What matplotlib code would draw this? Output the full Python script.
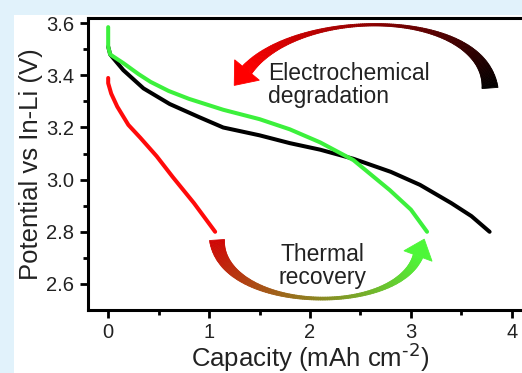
import numpy as np
import matplotlib
import matplotlib.pyplot as plt
from matplotlib.patches import Rectangle, Polygon
from matplotlib.collections import PolyCollection

matplotlib.use("Agg")

# discharge curves
black_cap = [0, 0.02, 0.15, 0.35, 0.61, 0.9, 1.14, 1.5, 1.8, 2.1, 2.43, 2.8, 3.09, 3.4, 3.6, 3.78]
black_v = [3.51, 3.48, 3.42, 3.35, 3.29, 3.24, 3.20, 3.17, 3.14, 3.115, 3.08, 3.03, 2.98, 2.91, 2.86, 2.80]

green_cap = [0, 0, 0.02, 0.15, 0.3, 0.42, 0.6, 0.8, 1.14, 1.5, 1.8, 2.1, 2.43, 2.79, 3.0, 3.16]
green_v = [3.585, 3.51, 3.48, 3.447, 3.405, 3.375, 3.34, 3.31, 3.268, 3.232, 3.193, 3.143, 3.075, 2.96, 2.885, 2.80]

red_cap = [0, 0, 0.03, 0.09, 0.2, 0.32, 0.48, 0.64, 0.85, 1.06]
red_v = [3.39, 3.37, 3.33, 3.28, 3.21, 3.16, 3.09, 3.01, 2.91, 2.80]

x_ticks = [0, 1, 2, 3, 4]
y_ticks = [2.6, 2.8, 3.0, 3.2, 3.4, 3.6]

plt.rcParams["font.family"] = ["Liberation Sans", "DejaVu Sans"]
plt.rcParams["mathtext.default"] = "regular"

W, H = 522, 373
fig = plt.figure(figsize=(W / 100, H / 100), dpi=100, facecolor="#e1f2fb")
fig.patches.append(Rectangle((14 / W, 0), 1, (H - 15) / H, transform=fig.transFigure,
                             facecolor="white", edgecolor="none", zorder=-1))

ax = fig.add_axes([88 / W, 63 / H, 444 / W, 292 / H])
ax.plot(black_cap, black_v, color="black", lw=2.9, solid_capstyle="round")
ax.plot(green_cap, green_v, color="#3cf03c", lw=2.9, solid_capstyle="round")
ax.plot(red_cap, red_v, color="#ff0a0a", lw=2.9, solid_capstyle="round")

ax.set_xlim(-0.2, 4.2)
ax.set_ylim(2.5, 3.62)
ax.set_xticks(x_ticks)
ax.set_yticks(y_ticks)
ax.set_yticklabels([f"{v:.1f}" for v in y_ticks])
ax.set_xticks(np.arange(0.5, 4.2, 1.0), minor=True)
ax.set_yticks(np.arange(2.7, 3.61, 0.2), minor=True)
ax.tick_params(which="major", direction="out", length=6, width=2, labelsize=14.5,
               labelcolor="#222222", pad=3)
ax.tick_params(which="minor", direction="out", length=3.5, width=2)
ax.tick_params(axis="y", which="major", pad=4)
for s in ax.spines.values():
    s.set_linewidth(2.2)
ax.set_xlabel(r"Capacity (mAh cm$^{\text{-2}}$)", fontsize=18.5, color="#222222", labelpad=0)
ax.set_ylabel("Potential vs In-Li (V)", fontsize=18.5, color="#222222", labelpad=2)

# overlay in pixel coordinates for the curved arrows and notes
ov = fig.add_axes([0, 0, 1, 1], facecolor="none")
ov.set_xlim(0, W)
ov.set_ylim(H, 0)
ov.axis("off")


def crescent(pts, widths, c0, c1, head_len, head_half, n=160):
    p = np.array(pts, dtype=float)
    t = np.linspace(0, 1, n)[:, None]
    b = ((1 - t) ** 3 * p[0] + 3 * (1 - t) ** 2 * t * p[1]
         + 3 * (1 - t) * t ** 2 * p[2] + t ** 3 * p[3])
    d = (3 * (1 - t) ** 2 * (p[1] - p[0]) + 6 * (1 - t) * t * (p[2] - p[1])
         + 3 * t ** 2 * (p[3] - p[2]))
    d = d / np.linalg.norm(d, axis=1)[:, None]
    nrm = np.column_stack([-d[:, 1], d[:, 0]])
    tt = t[:, 0]
    w = widths[0] * (1 - tt) ** 2 + 2 * widths[1] * tt * (1 - tt) + widths[2] * tt ** 2
    up = b + nrm * (w / 2)[:, None]
    lo = b - nrm * (w / 2)[:, None]
    quads, cols = [], []
    c0, c1 = np.array(c0), np.array(c1)
    for i in range(n - 1):
        quads.append([up[i], up[i + 1], lo[i + 1], lo[i]])
        f = (tt[i] + tt[i + 1]) / 2
        cols.append(c0 + (c1 - c0) * f)
    ov.add_collection(PolyCollection(quads, facecolors=cols, edgecolors=cols, linewidths=0.6))
    end, dv, nv = b[-1], d[-1], nrm[-1]
    head = [end + nv * head_half, end + dv * head_len, end - nv * head_half]
    ov.add_patch(Polygon(head, closed=True, facecolor=c1, edgecolor=c1, lw=0.6))


# electrochemical degradation arrow (black -> red)
crescent([(490, 88), (484, 8), (300, 6), (247, 70)], (16, -9, 12),
         (0, 0, 0), (1, 0, 0), 20, 16)
# thermal recovery arrow (red -> green)
crescent([(217, 240), (222, 312), (395, 318), (418, 256)], (15, -6.5, 10),
         (0.82, 0.02, 0.02), (0.3, 0.97, 0.22), 18, 15)

ov.text(268, 62, "Electrochemical\ndegradation", fontsize=16.5, color="#222222",
        ha="left", va="top", linespacing=1.0)
ov.text(322, 243, "Thermal\nrecovery", fontsize=16.5, color="#222222",
        ha="center", va="top", linespacing=1.0)

fig.savefig("out.png", dpi=100, facecolor=fig.get_facecolor())
